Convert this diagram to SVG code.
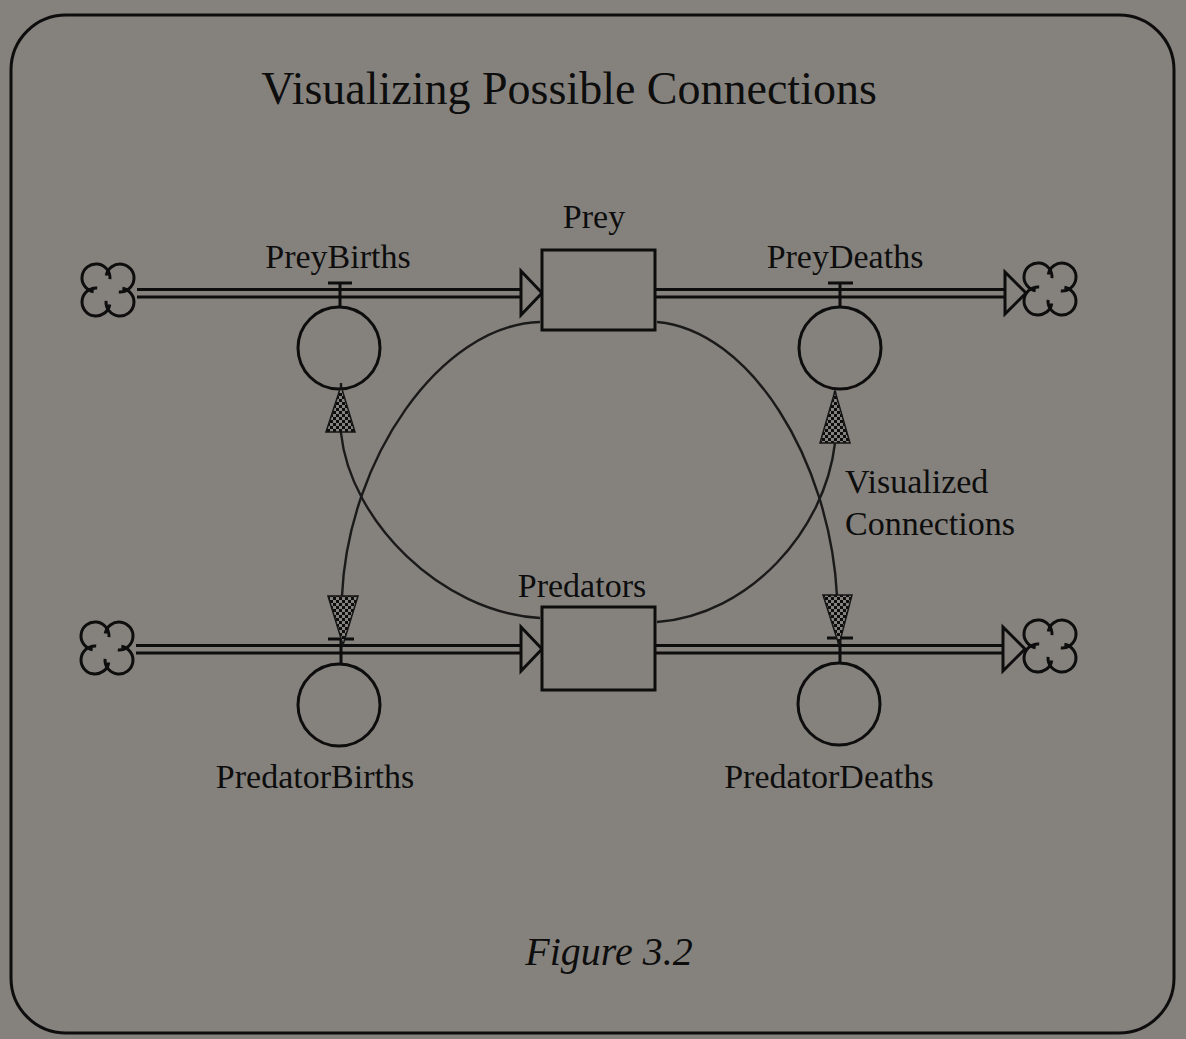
<svg xmlns="http://www.w3.org/2000/svg" width="1186" height="1039" viewBox="0 0 1186 1039">
<style>
.lbl{font-family:"Liberation Serif","Times New Roman",serif;font-size:34px;fill:#0d0d0d;text-anchor:middle}
.ttl{font-family:"Liberation Serif","Times New Roman",serif;font-size:46px;fill:#0d0d0d;text-anchor:middle}
.fig{font-family:"Liberation Serif","Times New Roman",serif;font-style:italic;font-size:40px;fill:#0d0d0d;text-anchor:middle}
.ink{fill:none;stroke:#0d0d0d;stroke-width:3}
.box{fill:#85827d;stroke:#0d0d0d;stroke-width:3}
.pipe{fill:none;stroke:#0d0d0d;stroke-width:3}
.flowhead{fill:#85827d;stroke:#0d0d0d;stroke-width:3;stroke-linejoin:miter}
.conn{fill:none;stroke:#1a1a1a;stroke-width:2.4}
.chk{fill:url(#chk);stroke:#151515;stroke-width:1.5}
</style>
<defs>
<pattern id="chk" width="6" height="6" patternUnits="userSpaceOnUse">
<rect width="6" height="6" fill="#85827d"/>
<rect width="3" height="3" fill="#0d0d0d"/>
<rect x="3" y="3" width="3" height="3" fill="#0d0d0d"/>
</pattern>
<g id="cloud">
<path class="ink" d="M-14.4,1.8 A14 14 0 1 1 1.95,-10.8"/>
<path class="ink" d="M-14.4,1.8 A14 14 0 1 1 1.95,-10.8" transform="rotate(90)"/>
<path class="ink" d="M-14.4,1.8 A14 14 0 1 1 1.95,-10.8" transform="rotate(180)"/>
<path class="ink" d="M-14.4,1.8 A14 14 0 1 1 1.95,-10.8" transform="rotate(270)"/>
</g>
</defs>
<rect width="1186" height="1039" fill="#85827d"/>
<rect x="11" y="15" width="1163" height="1018" rx="55" ry="55" fill="none" stroke="#0d0d0d" stroke-width="3"/>
<text class="ttl" x="569" y="104">Visualizing Possible Connections</text>

<g id="flows">
<g id="flow-preybirths">
<use href="#cloud" x="108" y="290"/>
<line class="pipe" x1="137" y1="289.5" x2="522" y2="289.5"/>
<line class="pipe" x1="137" y1="297" x2="522" y2="297"/>
<polygon class="flowhead" points="521,271 542,293 521,315"/>
</g>
<g id="flow-preydeaths">
<use href="#cloud" x="1050" y="289"/>
<line class="pipe" x1="656" y1="289.5" x2="1006" y2="289.5"/>
<line class="pipe" x1="656" y1="297" x2="1006" y2="297"/>
<polygon class="flowhead" points="1005,272 1026,293 1005,314"/>
</g>
<g id="flow-predatorbirths">
<use href="#cloud" x="107" y="648"/>
<line class="pipe" x1="136" y1="645.5" x2="522" y2="645.5"/>
<line class="pipe" x1="136" y1="653" x2="522" y2="653"/>
<polygon class="flowhead" points="521,627 542,649 521,671"/>
</g>
<g id="flow-predatordeaths">
<use href="#cloud" x="1050" y="646"/>
<line class="pipe" x1="656" y1="645.5" x2="1004" y2="645.5"/>
<line class="pipe" x1="656" y1="653" x2="1004" y2="653"/>
<polygon class="flowhead" points="1003,627 1025,649 1003,671"/>
</g>
</g>

<g id="Prey">
<rect class="box" x="542" y="250" width="113" height="80"/>
<text class="lbl" x="594" y="228">Prey</text>
</g>
<g id="Predators">
<rect class="box" x="542" y="607" width="113" height="83"/>
<text class="lbl" x="582" y="597">Predators</text>
</g>

<g id="PreyBirths">
<line class="ink" x1="328" y1="283" x2="352" y2="283"/>
<line class="ink" x1="340" y1="283" x2="340" y2="306"/>
<circle class="ink" cx="339" cy="348" r="41"/>
<text class="lbl" x="338" y="268">PreyBirths</text>
</g>
<g id="PreyDeaths">
<line class="ink" x1="828" y1="283" x2="853" y2="283"/>
<line class="ink" x1="840" y1="283" x2="840" y2="307"/>
<circle class="ink" cx="840" cy="348" r="41"/>
<text class="lbl" x="845" y="268">PreyDeaths</text>
</g>
<g id="PredatorBirths">
<line class="ink" x1="328" y1="639" x2="354" y2="639"/>
<line class="ink" x1="341" y1="639" x2="341" y2="664"/>
<circle class="ink" cx="339" cy="705" r="41"/>
<text class="lbl" x="315" y="788">PredatorBirths</text>
</g>
<g id="PredatorDeaths">
<line class="ink" x1="827" y1="638" x2="853" y2="638"/>
<line class="ink" x1="840" y1="638" x2="840" y2="663"/>
<circle class="ink" cx="839" cy="704" r="41"/>
<text class="lbl" x="829" y="788">PredatorDeaths</text>
</g>

<g id="connectors">
<path class="conn" d="M540,322 C440,325 348,460 342,596 L342,644"/>
<polygon class="chk" points="328,596 358,596 343,645"/>
<path class="conn" d="M540,618 C440,612 350,520 341,433 L341,383"/>
<polygon class="chk" points="326,432 355,432 341,386"/>
<path class="conn" d="M657,322 C750,330 830,460 837,596 L839,644"/>
<polygon class="chk" points="823,595 852,595 839,645"/>
<path class="conn" d="M657,622 C750,615 825,530 835,443 L835,391"/>
<polygon class="chk" points="820,443 850,443 835,391"/>
</g>

<text x="845" y="493" style="font-family:'Liberation Serif','Times New Roman',serif;font-size:34px;fill:#0d0d0d">Visualized</text>
<text x="845" y="535" style="font-family:'Liberation Serif','Times New Roman',serif;font-size:34px;fill:#0d0d0d">Connections</text>
<text class="fig" x="609" y="965">Figure 3.2</text>
</svg>
